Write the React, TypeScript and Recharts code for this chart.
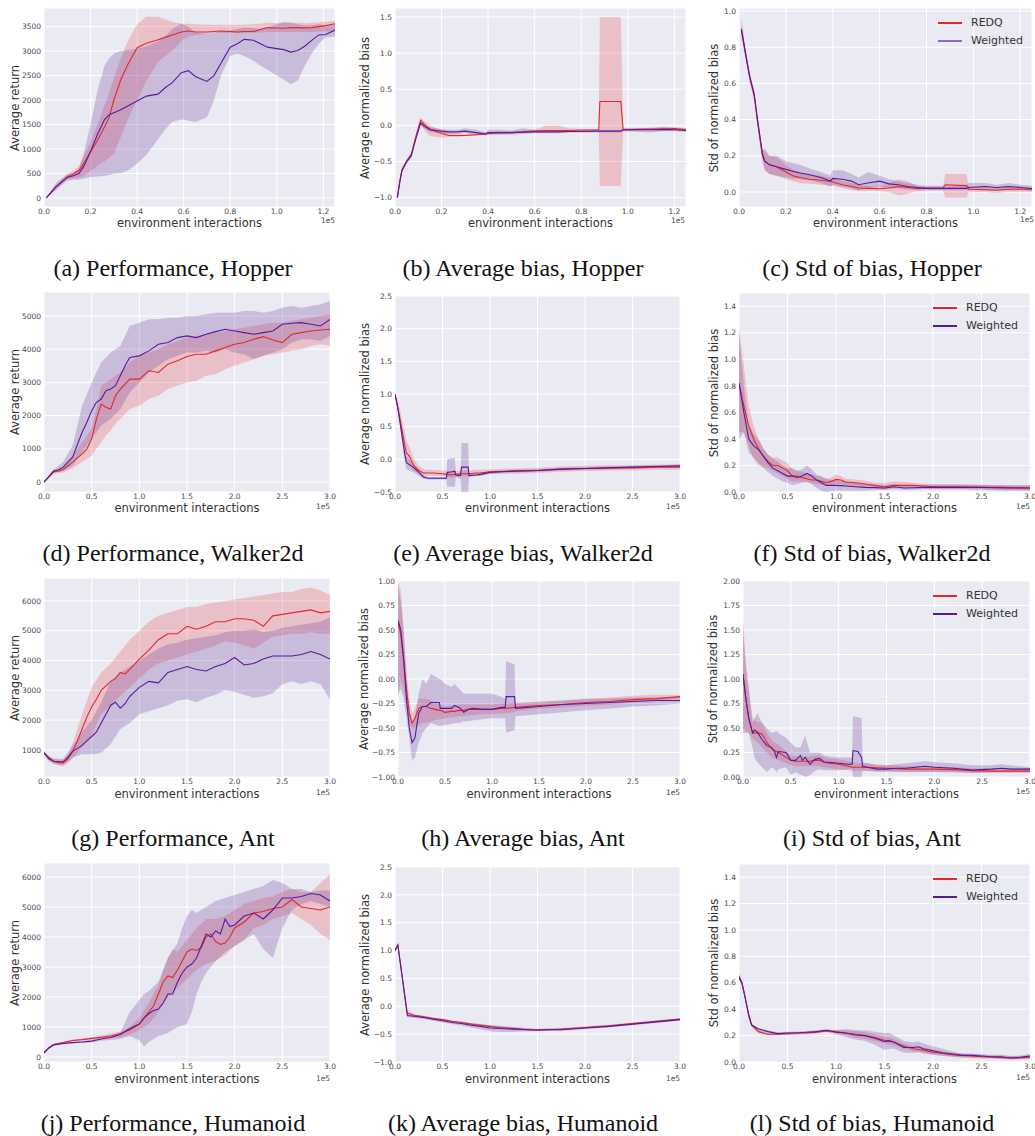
import { Area, CartesianGrid, ComposedChart, Line, XAxis, YAxis } from 'recharts';

// ---- Hopper (x in 1e5 env steps) ----
const hopPerfX = [0.01, 0.05, 0.1, 0.13, 0.15, 0.17, 0.2, 0.23, 0.26, 0.28, 0.3, 0.33, 0.36, 0.4, 0.44, 0.49, 0.52, 0.55, 0.59, 0.62, 0.65, 0.7, 0.73, 0.76, 0.8, 0.83, 0.86, 0.9, 0.93, 0.96, 1.0, 1.03, 1.06, 1.09, 1.12, 1.15, 1.18, 1.21, 1.25];
const hopPerfRedMean = [0, 220, 430, 500, 560, 700, 945, 1180, 1450, 1650, 2000, 2420, 2725, 3070, 3160, 3230, 3280, 3330, 3390, 3410, 3390, 3390, 3400, 3410, 3400, 3390, 3400, 3400, 3440, 3480, 3470, 3465, 3480, 3480, 3475, 3480, 3500, 3520, 3560];
const hopPerfRedLo = [0, 180, 380, 400, 420, 450, 550, 650, 750, 820, 900, 1250, 1600, 2000, 2400, 2780, 2900, 3000, 3200, 3300, 3330, 3350, 3370, 3370, 3370, 3370, 3370, 3370, 3380, 3390, 3390, 3390, 3390, 3390, 3390, 3390, 3400, 3400, 3400];
const hopPerfRedHi = [0, 260, 500, 560, 650, 850, 1150, 1500, 1900, 2150, 2450, 2850, 3200, 3550, 3700, 3700, 3650, 3600, 3560, 3560, 3550, 3540, 3540, 3540, 3540, 3540, 3540, 3550, 3560, 3580, 3570, 3570, 3580, 3580, 3570, 3580, 3590, 3600, 3620];
const hopPerfPurMean = [0, 220, 420, 460, 500, 640, 950, 1300, 1600, 1700, 1740, 1800, 1880, 1980, 2080, 2120, 2250, 2350, 2560, 2600, 2480, 2380, 2500, 2750, 3080, 3150, 3240, 3220, 3150, 3080, 3050, 3030, 2980, 3010, 3100, 3220, 3330, 3340, 3430];
const hopPerfPurLo = [0, 150, 350, 370, 370, 390, 430, 440, 450, 470, 500, 510, 560, 700, 880, 1200, 1400, 1550, 1600, 1580, 1550, 1650, 2000, 2500, 2900, 2950, 2900, 2800, 2700, 2620, 2500, 2420, 2320, 2400, 2700, 2950, 3150, 3280, 3300];
const hopPerfPurHi = [0, 300, 480, 520, 600, 900, 1500, 2200, 2700, 2850, 2950, 3000, 3020, 3050, 3100, 3200, 3300, 3450, 3560, 3500, 3380, 3350, 3370, 3400, 3420, 3450, 3480, 3470, 3450, 3480, 3550, 3600, 3580, 3550, 3520, 3530, 3550, 3530, 3540];

const hopBiasX = [0.01, 0.02, 0.03, 0.05, 0.07, 0.09, 0.11, 0.13, 0.15, 0.18, 0.2, 0.23, 0.27, 0.3, 0.35, 0.39, 0.4, 0.45, 0.5, 0.55, 0.6, 0.65, 0.7, 0.75, 0.8, 0.875, 0.88, 0.97, 0.98, 1.05, 1.1, 1.15, 1.2, 1.25];
const hopBiasRedMean = [-1.0, -0.78, -0.62, -0.5, -0.4, -0.15, 0.07, 0.0, -0.05, -0.09, -0.11, -0.14, -0.14, -0.14, -0.13, -0.12, -0.11, -0.1, -0.1, -0.09, -0.08, -0.07, -0.07, -0.07, -0.065, -0.06, 0.33, 0.33, -0.06, -0.055, -0.05, -0.05, -0.045, -0.06];
const hopBiasRedLo = [-1.0, -0.8, -0.65, -0.53, -0.43, -0.18, 0.02, -0.08, -0.15, -0.16, -0.17, -0.16, -0.16, -0.15, -0.14, -0.13, -0.13, -0.12, -0.11, -0.1, -0.09, -0.1, -0.1, -0.09, -0.08, -0.08, -0.84, -0.84, -0.08, -0.07, -0.07, -0.07, -0.065, -0.08];
const hopBiasRedHi = [-1.0, -0.75, -0.58, -0.47, -0.37, -0.12, 0.11, 0.05, 0.0, -0.04, -0.07, -0.11, -0.12, -0.12, -0.11, -0.1, -0.09, -0.08, -0.08, -0.07, -0.06, 0.0, 0.0, -0.04, -0.05, -0.05, 1.5, 1.5, -0.04, -0.04, -0.03, -0.03, -0.03, -0.04];
const hopBiasPurMean = [-1.0, -0.8, -0.62, -0.5, -0.42, -0.18, 0.03, -0.02, -0.06, -0.07, -0.08, -0.09, -0.09, -0.08, -0.1, -0.12, -0.1, -0.1, -0.1, -0.095, -0.09, -0.09, -0.09, -0.085, -0.085, -0.08, -0.08, -0.08, -0.06, -0.06, -0.06, -0.055, -0.06, -0.07];
const hopBiasPurLo = [-1.0, -0.82, -0.65, -0.53, -0.45, -0.2, 0.0, -0.05, -0.09, -0.1, -0.11, -0.12, -0.12, -0.11, -0.13, -0.14, -0.13, -0.13, -0.13, -0.12, -0.11, -0.11, -0.11, -0.1, -0.1, -0.1, -0.1, -0.1, -0.08, -0.09, -0.1, -0.08, -0.08, -0.09];
const hopBiasPurHi = [-1.0, -0.78, -0.6, -0.47, -0.39, -0.15, 0.06, 0.01, -0.03, -0.04, -0.05, -0.06, -0.06, -0.04, -0.06, -0.09, -0.06, -0.06, -0.07, -0.04, -0.06, -0.07, -0.07, -0.07, -0.07, -0.06, -0.06, -0.06, -0.04, -0.04, -0.04, -0.02, -0.03, -0.04];

const hopStdX = [0.01, 0.03, 0.045, 0.065, 0.08, 0.1, 0.11, 0.13, 0.16, 0.2, 0.23, 0.26, 0.3, 0.35, 0.39, 0.4, 0.44, 0.48, 0.51, 0.55, 0.6, 0.64, 0.68, 0.72, 0.76, 0.8, 0.87, 0.88, 0.97, 0.98, 1.05, 1.1, 1.15, 1.2, 1.25];
const hopStdRedMean = [0.9, 0.75, 0.64, 0.53, 0.38, 0.2, 0.17, 0.15, 0.14, 0.11, 0.09, 0.08, 0.07, 0.065, 0.058, 0.055, 0.04, 0.03, 0.022, 0.02, 0.018, 0.022, 0.03, 0.025, 0.02, 0.02, 0.02, 0.04, 0.035, 0.015, 0.012, 0.01, 0.015, 0.015, 0.015];
const hopStdRedLo = [0.85, 0.72, 0.61, 0.5, 0.35, 0.16, 0.12, 0.1, 0.09, 0.07, 0.06, 0.05, 0.045, 0.04, 0.035, 0.035, 0.02, 0.01, 0.005, 0.005, 0.005, 0.0, -0.02, -0.01, 0.005, 0.008, 0.008, -0.03, -0.03, 0.0, 0.0, -0.005, 0.0, 0.0, 0.0];
const hopStdRedHi = [0.96, 0.78, 0.67, 0.56, 0.41, 0.24, 0.22, 0.2, 0.19, 0.15, 0.12, 0.11, 0.1, 0.09, 0.08, 0.075, 0.06, 0.05, 0.04, 0.035, 0.03, 0.05, 0.07, 0.06, 0.035, 0.03, 0.03, 0.1, 0.1, 0.03, 0.025, 0.025, 0.03, 0.03, 0.03];
const hopStdPurMean = [0.9, 0.75, 0.64, 0.54, 0.39, 0.21, 0.17, 0.15, 0.14, 0.125, 0.115, 0.105, 0.095, 0.08, 0.06, 0.075, 0.07, 0.06, 0.04, 0.05, 0.06, 0.045, 0.04, 0.03, 0.025, 0.02, 0.02, 0.02, 0.02, 0.025, 0.03, 0.025, 0.03, 0.025, 0.018];
const hopStdPurLo = [0.87, 0.73, 0.62, 0.52, 0.37, 0.19, 0.12, 0.1, 0.09, 0.08, 0.075, 0.07, 0.065, 0.05, 0.03, 0.04, 0.03, 0.02, 0.01, 0.02, 0.03, 0.02, 0.02, 0.015, 0.01, 0.01, 0.01, 0.01, 0.01, 0.01, 0.01, 0.01, 0.01, 0.01, 0.005];
const hopStdPurHi = [0.93, 0.77, 0.66, 0.56, 0.41, 0.23, 0.24, 0.2, 0.2, 0.17, 0.16, 0.15, 0.13, 0.11, 0.09, 0.12, 0.12, 0.1, 0.08, 0.11, 0.09, 0.07, 0.06, 0.05, 0.04, 0.035, 0.035, 0.03, 0.04, 0.05, 0.05, 0.04, 0.05, 0.04, 0.035];

// ---- Walker2d ----
const walkPerfX = [0, 0.1, 0.15, 0.2, 0.3, 0.4, 0.45, 0.5, 0.55, 0.6, 0.65, 0.7, 0.75, 0.8, 0.85, 0.9, 1.0, 1.1, 1.2, 1.3, 1.4, 1.5, 1.6, 1.7, 1.8, 1.9, 2.0, 2.1, 2.2, 2.3, 2.4, 2.5, 2.6, 2.7, 2.8, 2.9, 3.0];
const walkPerfRedMean = [0, 300, 330, 380, 600, 850, 1000, 1300, 1900, 2350, 2250, 2200, 2600, 2800, 2950, 3100, 3100, 3350, 3300, 3550, 3650, 3780, 3850, 3850, 3950, 4050, 4150, 4200, 4300, 4380, 4280, 4200, 4450, 4500, 4550, 4580, 4600];
const walkPerfRedLo = [0, 250, 270, 280, 420, 600, 700, 800, 1000, 1200, 1400, 1550, 1750, 1900, 2050, 2200, 2300, 2500, 2600, 2800, 2900, 3000, 3050, 3200, 3250, 3400, 3500, 3600, 3700, 3800, 3850, 3900, 3950, 4000, 4100, 4150, 4100];
const walkPerfRedHi = [0, 340, 400, 450, 800, 1200, 1400, 1600, 2200, 2900, 3000, 3100, 3200, 3300, 3450, 3600, 3800, 3900, 4000, 4150, 4250, 4350, 4400, 4450, 4500, 4550, 4600, 4650, 4700, 4750, 4800, 4800, 4850, 4900, 4950, 5000, 5050];
const walkPerfPurMean = [0, 330, 360, 450, 750, 1500, 1800, 2150, 2400, 2500, 2750, 2800, 2900, 3200, 3500, 3750, 3800, 3950, 4150, 4200, 4350, 4400, 4350, 4450, 4530, 4600, 4550, 4500, 4450, 4500, 4550, 4750, 4780, 4800, 4750, 4700, 4900];
const walkPerfPurLo = [0, 280, 300, 330, 500, 900, 1100, 1300, 1500, 1700, 1800, 1900, 2050, 2200, 2450, 2700, 3000, 3300, 3500, 3700, 3800, 3900, 3900, 3950, 3900, 4000, 3900, 3850, 3700, 3800, 3900, 4000, 4200, 4300, 4300, 4250, 4400];
const walkPerfPurHi = [0, 380, 480, 600, 1100, 2300, 2650, 3000, 3300, 3600, 3750, 3900, 4000, 4100, 4400, 4700, 4800, 4900, 4900, 4950, 4950, 5000, 5000, 5050, 5100, 5100, 5100, 5150, 5150, 5100, 5150, 5250, 5300, 5250, 5300, 5350, 5450];

const walkBiasX = [0, 0.03, 0.06, 0.1, 0.12, 0.15, 0.2, 0.25, 0.3, 0.35, 0.4, 0.5, 0.54, 0.55, 0.6, 0.63, 0.64, 0.69, 0.7, 0.77, 0.78, 0.85, 0.9, 1.0, 1.25, 1.5, 1.75, 2.0, 2.25, 2.5, 2.75, 3.0];
const walkBiasRedMean = [1.0, 0.8, 0.55, 0.25, 0.1, 0.05, -0.1, -0.17, -0.21, -0.21, -0.21, -0.22, -0.23, -0.23, -0.24, -0.23, -0.23, -0.22, -0.22, -0.22, -0.22, -0.21, -0.21, -0.19, -0.18, -0.17, -0.15, -0.14, -0.13, -0.13, -0.12, -0.12];
const walkBiasRedLo = [1.0, 0.7, 0.45, 0.1, -0.02, -0.05, -0.18, -0.22, -0.25, -0.25, -0.25, -0.26, -0.27, -0.27, -0.28, -0.27, -0.27, -0.26, -0.26, -0.26, -0.26, -0.25, -0.25, -0.23, -0.22, -0.21, -0.19, -0.18, -0.17, -0.17, -0.16, -0.16];
const walkBiasRedHi = [1.0, 0.9, 0.7, 0.45, 0.28, 0.2, 0.0, -0.1, -0.15, -0.16, -0.16, -0.17, -0.18, -0.18, -0.19, -0.18, -0.18, -0.17, -0.17, -0.17, -0.17, -0.16, -0.16, -0.15, -0.14, -0.13, -0.11, -0.1, -0.09, -0.09, -0.08, -0.08];
const walkBiasPurMean = [1.0, 0.78, 0.5, 0.1, -0.05, -0.08, -0.13, -0.2, -0.27, -0.29, -0.29, -0.29, -0.29, -0.2, -0.19, -0.18, -0.24, -0.25, -0.12, -0.12, -0.25, -0.24, -0.23, -0.2, -0.18, -0.17, -0.15, -0.14, -0.13, -0.12, -0.11, -0.1];
const walkBiasPurLo = [1.0, 0.75, 0.45, 0.0, -0.15, -0.17, -0.2, -0.25, -0.3, -0.31, -0.31, -0.31, -0.31, -0.42, -0.42, -0.42, -0.27, -0.3, -0.5, -0.5, -0.27, -0.26, -0.25, -0.22, -0.2, -0.19, -0.17, -0.16, -0.15, -0.14, -0.13, -0.12];
const walkBiasPurHi = [1.0, 0.81, 0.55, 0.2, 0.05, 0.0, -0.08, -0.15, -0.24, -0.27, -0.27, -0.27, -0.27, 0.0, 0.02, 0.02, -0.22, -0.2, 0.25, 0.25, -0.22, -0.22, -0.21, -0.18, -0.16, -0.15, -0.13, -0.12, -0.11, -0.1, -0.09, -0.08];

const walkStdX = [0, 0.05, 0.1, 0.15, 0.2, 0.25, 0.3, 0.35, 0.4, 0.45, 0.5, 0.55, 0.6, 0.65, 0.7, 0.75, 0.8, 0.85, 0.9, 0.95, 1.0, 1.05, 1.1, 1.2, 1.3, 1.4, 1.5, 1.6, 1.7, 1.8, 1.9, 2.0, 2.25, 2.5, 2.75, 3.0];
const walkStdRedMean = [0.82, 0.65, 0.5, 0.4, 0.33, 0.27, 0.23, 0.2, 0.2, 0.18, 0.16, 0.12, 0.12, 0.11, 0.1, 0.09, 0.09, 0.08, 0.07, 0.08, 0.095, 0.09, 0.075, 0.07, 0.06, 0.05, 0.04, 0.05, 0.05, 0.05, 0.045, 0.04, 0.04, 0.035, 0.035, 0.03];
const walkStdRedLo = [0.45, 0.45, 0.35, 0.25, 0.2, 0.19, 0.18, 0.16, 0.14, 0.12, 0.1, 0.08, 0.08, 0.08, 0.07, 0.065, 0.06, 0.055, 0.05, 0.055, 0.06, 0.06, 0.05, 0.045, 0.035, 0.03, 0.02, 0.03, 0.03, 0.03, 0.025, 0.02, 0.02, 0.02, 0.015, 0.015];
const walkStdRedHi = [1.22, 0.95, 0.65, 0.5, 0.4, 0.33, 0.28, 0.26, 0.26, 0.24, 0.22, 0.17, 0.16, 0.15, 0.14, 0.13, 0.12, 0.11, 0.1, 0.11, 0.13, 0.12, 0.1, 0.095, 0.085, 0.07, 0.07, 0.08, 0.075, 0.07, 0.065, 0.06, 0.06, 0.055, 0.05, 0.05];
const walkStdPurMean = [0.82, 0.6, 0.4, 0.35, 0.32, 0.27, 0.22, 0.18, 0.16, 0.14, 0.12, 0.12, 0.11, 0.12, 0.14, 0.12, 0.09, 0.07, 0.05, 0.05, 0.05, 0.048, 0.045, 0.04, 0.035, 0.033, 0.03, 0.04, 0.03, 0.032, 0.035, 0.035, 0.035, 0.035, 0.03, 0.03];
const walkStdPurLo = [0.4, 0.45, 0.3, 0.26, 0.22, 0.18, 0.15, 0.12, 0.1, 0.08, 0.07, 0.05, 0.06, 0.07, 0.08, 0.06, 0.03, 0.01, 0.0, 0.005, 0.01, 0.01, 0.01, 0.01, 0.012, 0.015, 0.015, 0.02, 0.015, 0.015, 0.02, 0.02, 0.02, 0.015, 0.01, 0.01];
const walkStdPurHi = [1.2, 0.8, 0.5, 0.44, 0.4, 0.33, 0.28, 0.25, 0.23, 0.2, 0.18, 0.18, 0.16, 0.17, 0.2, 0.17, 0.13, 0.12, 0.1, 0.09, 0.09, 0.085, 0.08, 0.07, 0.06, 0.055, 0.05, 0.06, 0.05, 0.05, 0.055, 0.055, 0.055, 0.055, 0.05, 0.05];

// ---- Ant ----
const antPerfX = [0, 0.05, 0.1, 0.15, 0.2, 0.25, 0.3, 0.35, 0.4, 0.45, 0.5, 0.55, 0.6, 0.65, 0.7, 0.75, 0.8, 0.85, 0.9, 1.0, 1.1, 1.2, 1.3, 1.4, 1.5, 1.6, 1.7, 1.8, 1.9, 2.0, 2.1, 2.2, 2.3, 2.4, 2.5, 2.6, 2.7, 2.8, 2.9, 3.0];
const antPerfRedMean = [900, 750, 620, 580, 560, 700, 950, 1300, 1700, 2100, 2450, 2700, 3000, 3150, 3300, 3400, 3600, 3550, 3700, 4050, 4350, 4700, 4900, 4900, 5150, 5050, 5150, 5300, 5300, 5400, 5400, 5350, 5150, 5500, 5550, 5600, 5650, 5700, 5600, 5650];
const antPerfRedLo = [850, 700, 550, 480, 450, 550, 700, 900, 1100, 1300, 1500, 1850, 2200, 2350, 2500, 2650, 2800, 2950, 3100, 3400, 3700, 3900, 4000, 4100, 4200, 4300, 4400, 4500, 4650, 4600, 4500, 4400, 4600, 4800, 4850, 4900, 4900, 4950, 4900, 4900];
const antPerfRedHi = [950, 800, 700, 670, 650, 850, 1200, 1700, 2200, 2650, 3100, 3350, 3600, 3750, 3900, 4100, 4300, 4500, 4700, 5000, 5300, 5500, 5600, 5700, 5800, 5800, 5900, 5950, 6000, 6050, 6100, 6150, 6200, 6250, 6300, 6300, 6400, 6450, 6350, 6200];
const antPerfPurMean = [900, 700, 620, 600, 600, 750, 950, 1050, 1150, 1300, 1450, 1600, 1900, 2200, 2500, 2600, 2400, 2550, 2800, 3100, 3300, 3250, 3600, 3700, 3800, 3700, 3650, 3800, 3900, 4100, 3850, 3900, 4050, 4150, 4150, 4150, 4200, 4300, 4200, 4050];
const antPerfPurLo = [850, 620, 530, 500, 500, 600, 750, 800, 850, 850, 850, 870, 900, 1050, 1200, 1450, 1700, 1800, 1900, 2200, 2300, 2400, 2500, 2650, 2700, 2600, 2750, 2850, 3000, 2950, 2850, 2750, 2800, 2900, 3200, 3300, 3200, 3300, 3200, 2700];
const antPerfPurHi = [950, 780, 700, 700, 700, 900, 1150, 1350, 1600, 1800, 2000, 2300, 2600, 2950, 3300, 3450, 3600, 3700, 3800, 4000, 4200, 4400, 4550, 4600, 4700, 4750, 4800, 4850, 4950, 5000, 5000, 5050, 4950, 5000, 5100, 5150, 5200, 5250, 5300, 5450];

const antBiasX = [0, 0.03, 0.06, 0.09, 0.12, 0.15, 0.18, 0.22, 0.26, 0.3, 0.35, 0.44, 0.45, 0.5, 0.57, 0.6, 0.65, 0.7, 0.75, 0.8, 0.9, 1.0, 1.1, 1.14, 1.15, 1.24, 1.25, 1.5, 1.75, 2.0, 2.25, 2.5, 2.75, 3.0];
const antBiasRedMean = [0.58, 0.45, 0.2, -0.1, -0.35, -0.45, -0.4, -0.3, -0.28, -0.28, -0.3, -0.32, -0.32, -0.34, -0.33, -0.33, -0.32, -0.32, -0.31, -0.31, -0.31, -0.31, -0.3, -0.3, -0.3, -0.29, -0.29, -0.27, -0.26, -0.24, -0.23, -0.21, -0.2, -0.18];
const antBiasRedLo = [-0.2, 0.0, -0.1, -0.3, -0.45, -0.52, -0.5, -0.47, -0.45, -0.45, -0.43, -0.41, -0.41, -0.4, -0.39, -0.39, -0.38, -0.38, -0.37, -0.37, -0.36, -0.36, -0.35, -0.35, -0.35, -0.34, -0.33, -0.3, -0.29, -0.27, -0.26, -0.24, -0.22, -0.2];
const antBiasRedHi = [1.0, 0.9, 0.5, 0.1, -0.2, -0.35, -0.3, -0.2, -0.2, -0.2, -0.22, -0.26, -0.26, -0.28, -0.27, -0.27, -0.26, -0.26, -0.26, -0.26, -0.26, -0.26, -0.25, -0.25, -0.25, -0.24, -0.24, -0.24, -0.22, -0.21, -0.19, -0.17, -0.16, -0.16];
const antBiasPurMean = [0.6, 0.5, 0.2, -0.2, -0.5, -0.65, -0.6, -0.35, -0.28, -0.28, -0.24, -0.24, -0.3, -0.3, -0.3, -0.27, -0.29, -0.34, -0.31, -0.3, -0.31, -0.31, -0.29, -0.29, -0.18, -0.18, -0.3, -0.28, -0.26, -0.25, -0.24, -0.23, -0.22, -0.22];
const antBiasPurLo = [-0.15, -0.1, -0.2, -0.4, -0.6, -0.83, -0.8, -0.65, -0.55, -0.5, -0.45, -0.48, -0.48, -0.47, -0.46, -0.45, -0.45, -0.43, -0.43, -0.42, -0.41, -0.4, -0.4, -0.4, -0.55, -0.52, -0.38, -0.36, -0.34, -0.32, -0.3, -0.28, -0.27, -0.25];
const antBiasPurHi = [0.95, 0.8, 0.5, 0.0, -0.3, -0.45, -0.4, -0.15, 0.0, -0.05, 0.05, 0.0, 0.0, -0.05, -0.08, -0.05, -0.1, -0.15, -0.15, -0.15, -0.15, -0.15, -0.18, -0.2, 0.18, 0.15, -0.25, -0.23, -0.22, -0.2, -0.2, -0.19, -0.19, -0.18];

const antStdX = [0, 0.03, 0.06, 0.1, 0.12, 0.15, 0.2, 0.25, 0.3, 0.33, 0.35, 0.37, 0.45, 0.5, 0.55, 0.6, 0.62, 0.65, 0.7, 0.75, 0.8, 0.85, 0.9, 1.0, 1.1, 1.14, 1.15, 1.2, 1.24, 1.25, 1.3, 1.4, 1.5, 1.6, 1.7, 1.8, 1.9, 2.0, 2.2, 2.4, 2.6, 2.7, 2.8, 3.0];
const antStdRedMean = [1.05, 0.8, 0.6, 0.45, 0.45, 0.45, 0.44, 0.35, 0.29, 0.27, 0.26, 0.25, 0.2, 0.17, 0.16, 0.16, 0.16, 0.16, 0.16, 0.17, 0.17, 0.15, 0.14, 0.13, 0.11, 0.1, 0.1, 0.1, 0.1, 0.1, 0.1, 0.095, 0.09, 0.085, 0.08, 0.08, 0.08, 0.08, 0.075, 0.065, 0.06, 0.06, 0.06, 0.06];
const antStdRedLo = [0.5, 0.47, 0.45, 0.4, 0.38, 0.35, 0.3, 0.25, 0.2, 0.19, 0.18, 0.17, 0.14, 0.12, 0.11, 0.11, 0.11, 0.11, 0.11, 0.11, 0.11, 0.1, 0.09, 0.08, 0.07, 0.065, 0.065, 0.065, 0.065, 0.065, 0.065, 0.06, 0.06, 0.055, 0.05, 0.05, 0.05, 0.05, 0.045, 0.04, 0.04, 0.04, 0.04, 0.04];
const antStdRedHi = [1.6, 1.2, 0.9, 0.6, 0.58, 0.56, 0.55, 0.45, 0.38, 0.35, 0.34, 0.33, 0.26, 0.22, 0.21, 0.21, 0.21, 0.21, 0.21, 0.22, 0.22, 0.2, 0.19, 0.18, 0.16, 0.15, 0.15, 0.14, 0.14, 0.14, 0.14, 0.13, 0.12, 0.12, 0.11, 0.11, 0.11, 0.11, 0.1, 0.09, 0.09, 0.09, 0.09, 0.09];
const antStdPurMean = [1.05, 0.8, 0.6, 0.45, 0.48, 0.46, 0.38, 0.32, 0.3, 0.26, 0.2, 0.26, 0.25, 0.17, 0.17, 0.22, 0.17, 0.2, 0.13, 0.18, 0.19, 0.15, 0.15, 0.14, 0.13, 0.13, 0.27, 0.26, 0.2, 0.11, 0.1, 0.08, 0.08, 0.09, 0.09, 0.1, 0.11, 0.1, 0.09, 0.07, 0.08, 0.09, 0.08, 0.08];
const antStdPurLo = [0.45, 0.45, 0.45, 0.3, 0.2, 0.15, 0.1, 0.05, 0.1, 0.08, 0.05, 0.08, 0.1, 0.02, 0.05, 0.02, 0.02, 0.0, 0.02, 0.06, 0.08, 0.07, 0.07, 0.07, 0.08, 0.08, 0.0, 0.0, 0.0, 0.06, 0.06, 0.05, 0.05, 0.05, 0.05, 0.05, 0.05, 0.05, 0.05, 0.04, 0.05, 0.05, 0.05, 0.05];
const antStdPurHi = [1.5, 1.1, 0.9, 0.55, 0.6, 0.65, 0.55, 0.5, 0.45, 0.46, 0.47, 0.45, 0.4, 0.35, 0.3, 0.3, 0.35, 0.42, 0.25, 0.25, 0.25, 0.22, 0.21, 0.2, 0.2, 0.2, 0.62, 0.61, 0.6, 0.15, 0.14, 0.12, 0.12, 0.13, 0.14, 0.15, 0.16, 0.15, 0.14, 0.12, 0.12, 0.13, 0.12, 0.1];

// ---- Humanoid ----
const humPerfX = [0, 0.05, 0.1, 0.2, 0.3, 0.4, 0.5, 0.6, 0.7, 0.8, 0.9, 1.0, 1.05, 1.1, 1.15, 1.2, 1.25, 1.3, 1.35, 1.4, 1.45, 1.5, 1.55, 1.6, 1.65, 1.7, 1.75, 1.8, 1.85, 1.9, 1.95, 2.0, 2.1, 2.2, 2.3, 2.4, 2.5, 2.6, 2.7, 2.8, 2.9, 3.0];
const humPerfRedMean = [150, 300, 420, 480, 550, 580, 620, 660, 700, 780, 900, 1100, 1300, 1500, 1700, 2100, 2500, 2700, 2650, 2900, 3200, 3500, 3600, 3550, 3650, 4000, 4100, 3850, 3750, 3800, 4000, 4300, 4500, 4800, 4850, 4950, 5000, 5250, 5000, 4950, 4900, 5000];
const humPerfRedLo = [120, 270, 390, 450, 520, 550, 580, 620, 640, 650, 750, 900, 1000, 1100, 1300, 1500, 1750, 2000, 2150, 2300, 2450, 2600, 2750, 2900, 3000, 3100, 3150, 3200, 3300, 3400, 3550, 3700, 3900, 4300, 4400, 4600, 4700, 4800, 4600, 4400, 4100, 3900];
const humPerfRedHi = [180, 330, 450, 510, 580, 620, 660, 720, 780, 850, 1000, 1300, 1550, 1800, 2100, 2400, 2900, 3300, 3600, 3500, 3700, 3900, 4100, 4300, 4450, 4600, 4600, 4600, 4650, 4700, 4800, 4900, 5100, 5200, 5300, 5350, 5500, 5600, 5500, 5500, 5800, 6100];
const humPerfPurMean = [130, 300, 400, 450, 480, 500, 530, 600, 650, 750, 950, 1100, 1300, 1450, 1550, 1600, 1800, 2100, 2100, 2500, 2800, 3000, 3100, 3300, 3700, 4100, 4000, 4200, 4100, 4600, 4350, 4400, 4700, 4800, 4600, 4900, 5300, 5300, 5350, 5450, 5400, 5200];
const humPerfPurLo = [120, 270, 370, 420, 450, 470, 480, 540, 570, 600, 700, 550, 350, 500, 600, 700, 750, 800, 900, 1000, 1050, 1100, 1500, 2100, 2500, 2800, 3000, 3200, 3350, 3500, 3600, 3700, 3900, 4100, 3600, 3300, 4300, 4900, 5100, 5200, 5100, 5000];
const humPerfPurHi = [150, 330, 430, 480, 510, 530, 580, 660, 720, 800, 1500, 1900, 2100, 2200, 2350, 2500, 2900, 3300, 3550, 3800, 4300, 4700, 4900, 4800, 4900, 5000, 5100, 5200, 5250, 5300, 5350, 5400, 5500, 5600, 5700, 5900, 5800, 5600, 5600, 5500, 5550, 5550];

const humBiasX = [0, 0.03, 0.13, 0.15, 0.2, 0.3, 0.4, 0.5, 0.6, 0.7, 0.8, 0.9, 1.0, 1.1, 1.25, 1.4, 1.5, 1.6, 1.75, 2.0, 2.25, 2.5, 2.75, 3.0];
const humBiasRedMean = [1.0, 1.1, -0.13, -0.13, -0.16, -0.19, -0.22, -0.24, -0.27, -0.29, -0.32, -0.34, -0.36, -0.38, -0.4, -0.42, -0.42, -0.42, -0.41, -0.38, -0.35, -0.31, -0.27, -0.23];
const humBiasRedLo = [0.98, 1.07, -0.16, -0.16, -0.18, -0.21, -0.24, -0.26, -0.29, -0.31, -0.34, -0.36, -0.38, -0.4, -0.42, -0.44, -0.44, -0.44, -0.43, -0.4, -0.37, -0.33, -0.29, -0.25];
const humBiasRedHi = [1.02, 1.13, -0.1, -0.1, -0.14, -0.17, -0.2, -0.22, -0.25, -0.27, -0.3, -0.32, -0.34, -0.36, -0.38, -0.4, -0.4, -0.4, -0.39, -0.36, -0.33, -0.29, -0.25, -0.21];
const humBiasPurMean = [1.0, 1.1, -0.17, -0.17, -0.18, -0.2, -0.23, -0.26, -0.29, -0.31, -0.34, -0.36, -0.39, -0.4, -0.41, -0.42, -0.43, -0.42, -0.42, -0.39, -0.36, -0.32, -0.28, -0.24];
const humBiasPurLo = [0.98, 1.07, -0.2, -0.2, -0.21, -0.23, -0.26, -0.29, -0.32, -0.35, -0.38, -0.41, -0.45, -0.46, -0.46, -0.45, -0.45, -0.44, -0.44, -0.41, -0.38, -0.34, -0.3, -0.26];
const humBiasPurHi = [1.02, 1.13, -0.14, -0.14, -0.15, -0.17, -0.2, -0.23, -0.26, -0.28, -0.3, -0.32, -0.34, -0.35, -0.37, -0.39, -0.41, -0.4, -0.4, -0.37, -0.34, -0.3, -0.26, -0.22];

const humStdX = [0, 0.03, 0.06, 0.1, 0.13, 0.2, 0.3, 0.4, 0.5, 0.6, 0.7, 0.8, 0.9, 1.0, 1.1, 1.2, 1.3, 1.4, 1.5, 1.55, 1.6, 1.7, 1.8, 1.85, 1.9, 2.0, 2.1, 2.2, 2.3, 2.4, 2.5, 2.6, 2.7, 2.8, 2.9, 3.0];
const humStdRedMean = [0.65, 0.6, 0.5, 0.35, 0.28, 0.23, 0.21, 0.21, 0.215, 0.22, 0.22, 0.225, 0.235, 0.23, 0.22, 0.21, 0.2, 0.185, 0.165, 0.16, 0.15, 0.12, 0.1, 0.095, 0.09, 0.075, 0.065, 0.055, 0.05, 0.045, 0.04, 0.038, 0.035, 0.03, 0.032, 0.035];
const humStdRedLo = [0.63, 0.58, 0.48, 0.33, 0.265, 0.215, 0.2, 0.2, 0.205, 0.21, 0.21, 0.215, 0.225, 0.215, 0.2, 0.185, 0.175, 0.16, 0.14, 0.135, 0.125, 0.1, 0.08, 0.075, 0.07, 0.055, 0.05, 0.04, 0.035, 0.03, 0.025, 0.025, 0.02, 0.018, 0.02, 0.02];
const humStdRedHi = [0.67, 0.62, 0.52, 0.37, 0.295, 0.245, 0.22, 0.22, 0.225, 0.23, 0.23, 0.235, 0.245, 0.245, 0.24, 0.235, 0.225, 0.21, 0.19, 0.185, 0.175, 0.14, 0.12, 0.115, 0.11, 0.095, 0.08, 0.07, 0.065, 0.06, 0.055, 0.05, 0.05, 0.045, 0.045, 0.05];
const humStdPurMean = [0.64, 0.6, 0.5, 0.36, 0.28, 0.25, 0.23, 0.215, 0.22, 0.22, 0.225, 0.23, 0.24, 0.225, 0.22, 0.205, 0.2, 0.18, 0.155, 0.16, 0.15, 0.11, 0.11, 0.115, 0.1, 0.085, 0.07, 0.06, 0.05, 0.05, 0.045, 0.04, 0.04, 0.03, 0.035, 0.045];
const humStdPurLo = [0.62, 0.58, 0.48, 0.34, 0.27, 0.24, 0.22, 0.205, 0.21, 0.21, 0.215, 0.22, 0.23, 0.21, 0.19, 0.17, 0.16, 0.13, 0.09, 0.1, 0.1, 0.07, 0.07, 0.075, 0.065, 0.055, 0.045, 0.04, 0.035, 0.035, 0.03, 0.03, 0.025, 0.02, 0.02, 0.03];
const humStdPurHi = [0.66, 0.62, 0.52, 0.38, 0.29, 0.26, 0.24, 0.225, 0.23, 0.23, 0.235, 0.24, 0.25, 0.24, 0.25, 0.24, 0.24, 0.23, 0.22, 0.22, 0.2, 0.16, 0.15, 0.155, 0.14, 0.12, 0.1, 0.08, 0.065, 0.065, 0.06, 0.055, 0.055, 0.045, 0.05, 0.06];

// ---- axis ticks ----
const xTicksHopper = [0, 0.2, 0.4, 0.6, 0.8, 1.0, 1.2];
const xTicksLong = [0, 0.5, 1.0, 1.5, 2.0, 2.5, 3.0];
const yTicksHopPerf = [0, 500, 1000, 1500, 2000, 2500, 3000, 3500];
const yTicksHopBias = [-1.0, -0.5, 0, 0.5, 1.0, 1.5];
const yTicksStd1 = [0, 0.2, 0.4, 0.6, 0.8, 1.0];
const yTicksWalkPerf = [0, 1000, 2000, 3000, 4000, 5000];
const yTicksBias25 = [-0.5, 0, 0.5, 1.0, 1.5, 2.0, 2.5];
const yTicksStd14 = [0, 0.2, 0.4, 0.6, 0.8, 1.0, 1.2, 1.4];
const yTicksAntPerf = [1000, 2000, 3000, 4000, 5000, 6000];
const yTicksAntBias = [-1.0, -0.75, -0.5, -0.25, 0, 0.25, 0.5, 0.75, 1.0];
const yTicksAntStd = [0, 0.25, 0.5, 0.75, 1.0, 1.25, 1.5, 1.75, 2.0];
const yTicksHumPerf = [0, 1000, 2000, 3000, 4000, 5000, 6000];
const yTicksHumBias = [-1.0, -0.5, 0, 0.5, 1.0, 1.5, 2.0, 2.5];

const RED = '#e5262b';
const PURPLE = '#581a9c';
const RED_BAND = '#e41a1c';
const PURPLE_BAND = '#663399';
const BG = '#eaeaf2';
const SANS = '"DejaVu Sans", sans-serif';
const SERIF = '"Liberation Serif", "Times New Roman", serif';

function buildRows(x: number[], rm: number[], rlo: number[], rhi: number[], pm: number[], plo: number[], phi: number[]) {
  return x.map((v, i) => ({ x: v, rm: rm[i], r: [rlo[i], rhi[i]], pm: pm[i], p: [plo[i], phi[i]] }));
}

const fmt = (d: number) => (v: number) => v.toFixed(d).replace('-', '\u2212');

type Spec = {
  id: string;
  left: number; top: number; right: number; bottom: number;
  xMax: number; xTicks: number[];
  yDomain: [number, number]; yTicks: number[]; yDec: number;
  yLabel: string; yLabelX: number;
  xLabelY: number; e5: [number, number];
  rows: ReturnType<typeof buildRows>;
  legend?: { x: number; y: number; purple: string };
};

const COL1 = { l: 44, yl: 16 };
const COL2 = { l: 395, yl: 366 };
const COL3 = { l: 739, yl: 715 };

const specs: Spec[] = [
  { id: 'a', left: COL1.l, top: 8, right: 335, bottom: 207, xMax: 1.25, xTicks: xTicksHopper, yDomain: [-185, 3880], yTicks: yTicksHopPerf, yDec: 0, yLabel: 'Average return', yLabelX: COL1.yl, xLabelY: 224, e5: [328, 221],
    rows: buildRows(hopPerfX, hopPerfRedMean, hopPerfRedLo, hopPerfRedHi, hopPerfPurMean, hopPerfPurLo, hopPerfPurHi) },
  { id: 'b', left: COL2.l, top: 8, right: 686, bottom: 207, xMax: 1.25, xTicks: xTicksHopper, yDomain: [-1.13, 1.625], yTicks: yTicksHopBias, yDec: 1, yLabel: 'Average normalized bias', yLabelX: COL2.yl, xLabelY: 224, e5: [678, 221],
    rows: buildRows(hopBiasX, hopBiasRedMean, hopBiasRedLo, hopBiasRedHi, hopBiasPurMean, hopBiasPurLo, hopBiasPurHi) },
  { id: 'c', left: COL3.l, top: 8, right: 1032, bottom: 207, xMax: 1.25, xTicks: xTicksHopper, yDomain: [-0.083, 1.017], yTicks: yTicksStd1, yDec: 1, yLabel: 'Std of normalized bias', yLabelX: COL3.yl, xLabelY: 224, e5: [1027, 220],
    rows: buildRows(hopStdX, hopStdRedMean, hopStdRedLo, hopStdRedHi, hopStdPurMean, hopStdPurLo, hopStdPurHi),
    legend: { x: 938, y: 23, purple: '#9168c4' } },

  { id: 'd', left: COL1.l, top: 292, right: 330, bottom: 492, xMax: 3, xTicks: xTicksLong, yDomain: [-300, 5723], yTicks: yTicksWalkPerf, yDec: 0, yLabel: 'Average return', yLabelX: COL1.yl, xLabelY: 509, e5: [323, 507],
    rows: buildRows(walkPerfX, walkPerfRedMean, walkPerfRedLo, walkPerfRedHi, walkPerfPurMean, walkPerfPurLo, walkPerfPurHi) },
  { id: 'e', left: COL2.l, top: 296, right: 680, bottom: 492, xMax: 3, xTicks: xTicksLong, yDomain: [-0.5, 2.5], yTicks: yTicksBias25, yDec: 1, yLabel: 'Average normalized bias', yLabelX: COL2.yl, xLabelY: 509, e5: [673, 507],
    rows: buildRows(walkBiasX, walkBiasRedMean, walkBiasRedLo, walkBiasRedHi, walkBiasPurMean, walkBiasPurLo, walkBiasPurHi) },
  { id: 'f', left: COL3.l, top: 293, right: 1030, bottom: 492, xMax: 3, xTicks: xTicksLong, yDomain: [0, 1.5], yTicks: yTicksStd14, yDec: 1, yLabel: 'Std of normalized bias', yLabelX: COL3.yl, xLabelY: 509, e5: [1023, 507],
    rows: buildRows(walkStdX, walkStdRedMean, walkStdRedLo, walkStdRedHi, walkStdPurMean, walkStdPurLo, walkStdPurHi),
    legend: { x: 933, y: 308, purple: PURPLE } },

  { id: 'g', left: COL1.l, top: 578, right: 330, bottom: 777, xMax: 3, xTicks: xTicksLong, yDomain: [90, 6770], yTicks: yTicksAntPerf, yDec: 0, yLabel: 'Average return', yLabelX: COL1.yl, xLabelY: 795, e5: [323, 793],
    rows: buildRows(antPerfX, antPerfRedMean, antPerfRedLo, antPerfRedHi, antPerfPurMean, antPerfPurLo, antPerfPurHi) },
  { id: 'h', left: 398, top: 581, right: 680, bottom: 777, xMax: 3, xTicks: xTicksLong, yDomain: [-1, 1], yTicks: yTicksAntBias, yDec: 2, yLabel: 'Average normalized bias', yLabelX: 365, xLabelY: 795, e5: [673, 793],
    rows: buildRows(antBiasX, antBiasRedMean, antBiasRedLo, antBiasRedHi, antBiasPurMean, antBiasPurLo, antBiasPurHi) },
  { id: 'i', left: 743, top: 581, right: 1030, bottom: 777, xMax: 3, xTicks: xTicksLong, yDomain: [0, 2], yTicks: yTicksAntStd, yDec: 2, yLabel: 'Std of normalized bias', yLabelX: 714, xLabelY: 795, e5: [1023, 792],
    rows: buildRows(antStdX, antStdRedMean, antStdRedLo, antStdRedHi, antStdPurMean, antStdPurLo, antStdPurHi),
    legend: { x: 933, y: 596, purple: PURPLE } },

  { id: 'j', left: COL1.l, top: 863, right: 330, bottom: 1062, xMax: 3, xTicks: xTicksLong, yDomain: [-167, 6467], yTicks: yTicksHumPerf, yDec: 0, yLabel: 'Average return', yLabelX: COL1.yl, xLabelY: 1080, e5: [323, 1079],
    rows: buildRows(humPerfX, humPerfRedMean, humPerfRedLo, humPerfRedHi, humPerfPurMean, humPerfPurLo, humPerfPurHi) },
  { id: 'k', left: COL2.l, top: 867, right: 680, bottom: 1062, xMax: 3, xTicks: xTicksLong, yDomain: [-1, 2.5], yTicks: yTicksHumBias, yDec: 1, yLabel: 'Average normalized bias', yLabelX: COL2.yl, xLabelY: 1080, e5: [673, 1079],
    rows: buildRows(humBiasX, humBiasRedMean, humBiasRedLo, humBiasRedHi, humBiasPurMean, humBiasPurLo, humBiasPurHi) },
  { id: 'l', left: COL3.l, top: 864, right: 1030, bottom: 1062, xMax: 3, xTicks: xTicksLong, yDomain: [0, 1.5], yTicks: yTicksStd14, yDec: 1, yLabel: 'Std of normalized bias', yLabelX: COL3.yl, xLabelY: 1080, e5: [1023, 1078],
    rows: buildRows(humStdX, humStdRedMean, humStdRedLo, humStdRedHi, humStdPurMean, humStdPurLo, humStdPurHi),
    legend: { x: 933, y: 879, purple: PURPLE } },
];

const captions = [
  { text: '(a) Performance, Hopper', x: 173, y: 268 },
  { text: '(b) Average bias, Hopper', x: 523, y: 268 },
  { text: '(c) Std of bias, Hopper', x: 872, y: 268 },
  { text: '(d) Performance, Walker2d', x: 173, y: 553 },
  { text: '(e) Average bias, Walker2d', x: 523, y: 553 },
  { text: '(f) Std of bias, Walker2d', x: 872, y: 553 },
  { text: '(g) Performance, Ant', x: 173, y: 838 },
  { text: '(h) Average bias, Ant', x: 523, y: 838 },
  { text: '(i) Std of bias, Ant', x: 872, y: 838 },
  { text: '(j) Performance, Humanoid', x: 173, y: 1123 },
  { text: '(k) Average bias, Humanoid', x: 523, y: 1123 },
  { text: '(l) Std of bias, Humanoid', x: 872, y: 1123 },
];

const YW = 40;
const PAD_T = 8;
const PAD_R = 14;
const XH = 16;

function Panel({ s }: { s: Spec }) {
  const w = s.right - s.left;
  const h = s.bottom - s.top;
  const tickStyle = { fontSize: 7.5, fill: '#4a4a4a', fontFamily: SANS };
  return (
    <>
      <div style={{ position: 'absolute', left: s.left - YW, top: s.top - PAD_T }}>
        <ComposedChart width={w + YW + PAD_R} height={h + PAD_T + XH} data={s.rows}
          margin={{ top: PAD_T, right: PAD_R, bottom: 0, left: 0 }}>
          <CartesianGrid fill={BG} stroke="#ffffff" strokeWidth={1} />
          <XAxis dataKey="x" type="number" domain={[0, s.xMax]} ticks={s.xTicks} interval={0}
            allowDataOverflow axisLine={false} tickLine={false} tickSize={2} tickMargin={0}
            height={XH} tick={tickStyle} tickFormatter={fmt(1)} />
          <YAxis type="number" domain={s.yDomain} ticks={s.yTicks} interval={0} allowDataOverflow
            axisLine={false} tickLine={false} tickSize={2} tickMargin={1} width={YW}
            tick={tickStyle} tickFormatter={fmt(s.yDec)} />
          <Area dataKey="r" type="linear" stroke="none" fill={RED_BAND} fillOpacity={0.2}
            isAnimationActive={false} dot={false} activeDot={false} />
          <Area dataKey="p" type="linear" stroke="none" fill={PURPLE_BAND} fillOpacity={0.25}
            isAnimationActive={false} dot={false} activeDot={false} />
          <Line dataKey="rm" type="linear" stroke={RED} strokeWidth={1.1}
            isAnimationActive={false} dot={false} activeDot={false} />
          <Line dataKey="pm" type="linear" stroke={PURPLE} strokeWidth={1.1}
            isAnimationActive={false} dot={false} activeDot={false} />
        </ComposedChart>
      </div>
      <div style={{ position: 'absolute', left: (s.left + s.right) / 2, top: s.xLabelY, transform: 'translate(-50%, -50%)',
        fontFamily: SANS, fontSize: 11.5, color: '#333', whiteSpace: 'nowrap', lineHeight: 1 }}>
        environment interactions
      </div>
      <div style={{ position: 'absolute', left: s.yLabelX, top: (s.top + s.bottom) / 2, transform: 'translate(-50%, -50%) rotate(-90deg)',
        fontFamily: SANS, fontSize: 11.5, color: '#333', whiteSpace: 'nowrap', lineHeight: 1 }}>
        {s.yLabel}
      </div>
      <div style={{ position: 'absolute', left: s.e5[0], top: s.e5[1], transform: 'translate(-50%, -50%)',
        fontFamily: SANS, fontSize: 7.5, color: '#4a4a4a', whiteSpace: 'nowrap', lineHeight: 1 }}>
        1e5
      </div>
      {s.legend && (
        <div style={{ position: 'absolute', left: s.legend.x, top: s.legend.y - 9, fontFamily: SANS, fontSize: 11, color: '#333', lineHeight: '18px' }}>
          {[{ c: RED, t: 'REDQ' }, { c: s.legend.purple, t: 'Weighted' }].map((e) => (
            <div key={e.t} style={{ display: 'flex', alignItems: 'center', height: 18 }}>
              <div style={{ width: 24, height: 1.5, background: e.c, marginRight: 9 }} />
              <span>{e.t}</span>
            </div>
          ))}
        </div>
      )}
    </>
  );
}

export default function App() {
  return (
    <div style={{ position: 'absolute', left: 0, top: 0, width: 1035, height: 1136, background: '#fff', overflow: 'hidden' }}>
      {specs.map((s) => <Panel key={s.id} s={s} />)}
      {captions.map((c) => (
        <div key={c.text} style={{ position: 'absolute', left: c.x, top: c.y, transform: 'translate(-50%, -50%)',
          fontFamily: SERIF, fontSize: 24, color: '#111', whiteSpace: 'nowrap', lineHeight: 1 }}>
          {c.text}
        </div>
      ))}
    </div>
  );
}
